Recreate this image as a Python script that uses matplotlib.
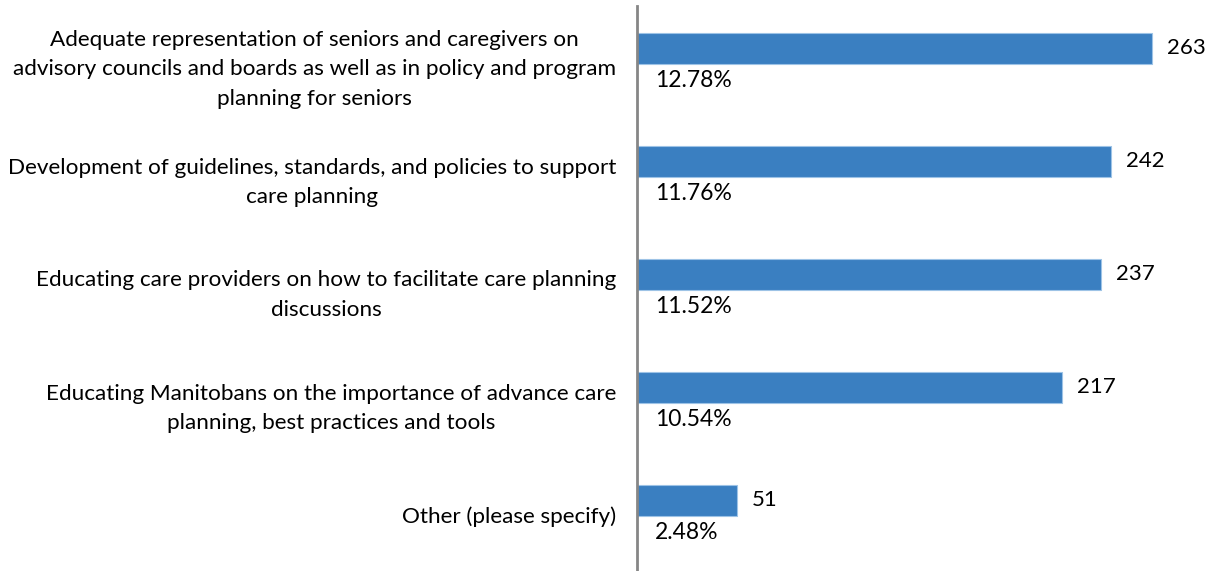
import matplotlib.pyplot as plt

plt.rcParams['font.family'] = ['Lato', 'DejaVu Sans']

categorias = [
    "Adequate representation of seniors and caregivers on\nadvisory councils and boards as well as in policy and program\nplanning for seniors",
    "Development of guidelines, standards, and policies to support\ncare planning",
    "Educating care providers on how to facilitate care planning\ndiscussions",
    "Educating Manitobans on the importance of advance care\nplanning, best practices and tools",
    "Other (please specify)",
]
contagens = [263, 242, 237, 217, 51]
percentuais = ["12.78%", "11.76%", "11.52%", "10.54%", "2.48%"]

fig = plt.figure(figsize=(12.15, 5.71), dpi=100)
ax = fig.add_axes([637 / 1215, 0, 1 - 637 / 1215, 565 / 571])

posicoes = list(range(len(categorias)))
desloc = -0.124

ax.barh([p + desloc for p in posicoes], contagens, height=0.274,
        color="#3A7FC1", edgecolor="#9DC3E6", linewidth=0.8)

for p, v, pc in zip(posicoes, contagens, percentuais):
    ax.annotate(str(v), (v, p + desloc), xytext=(15, 0), textcoords="offset pixels",
                ha="left", va="center", fontsize=16, color="black")
    ax.annotate(pc, (0, p + 0.16), xytext=(18, 0), textcoords="offset pixels",
                ha="left", va="center", fontsize=16.5, color="black")

ax.set_xlim(0, 295)
ax.set_ylim(4.5, -0.5)
ax.set_yticks(posicoes)
ax.set_yticklabels(categorias, fontsize=16.2, multialignment="center", linespacing=1.6)
ax.tick_params(axis="y", length=0, pad=15)
ax.set_xticks([])

for s in ["top", "right", "bottom"]:
    ax.spines[s].set_visible(False)
ax.spines["left"].set_color("#868686")
ax.spines["left"].set_linewidth(2)

fig.savefig("out.png", dpi=100)
